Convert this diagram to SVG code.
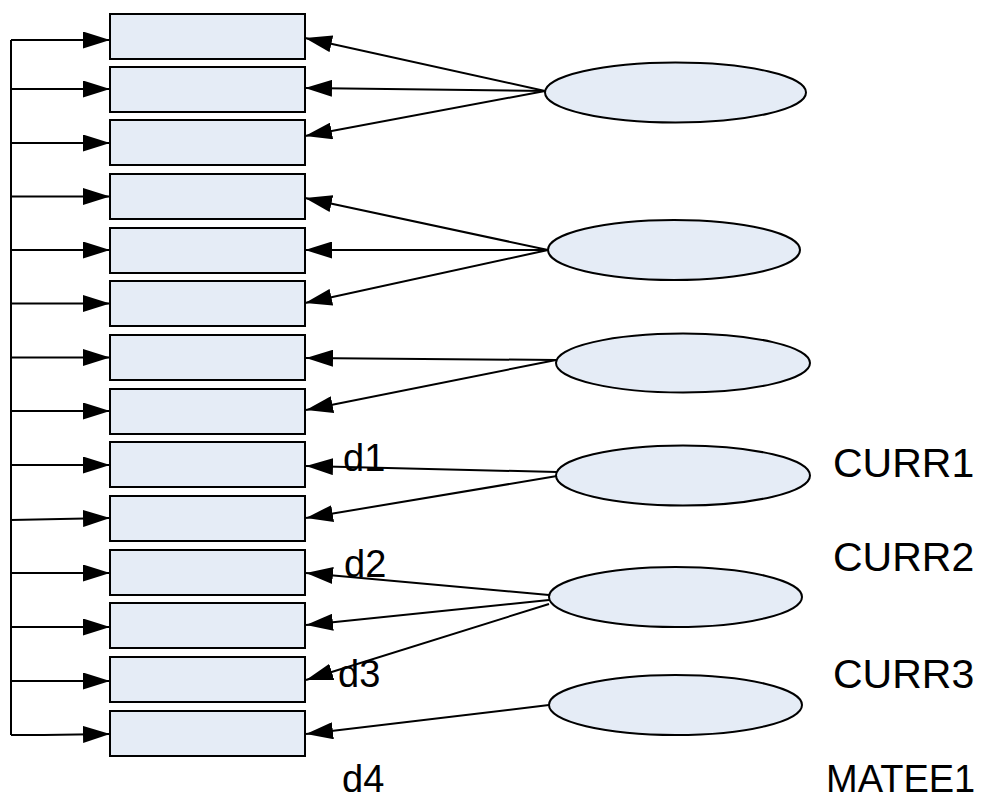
<svg xmlns="http://www.w3.org/2000/svg" width="995" height="801" viewBox="0 0 995 801">
<style>
.box{fill:#E5ECF6;stroke:#000;stroke-width:2}
.ell{fill:#E5ECF6;stroke:#000;stroke-width:2}
.con{fill:none;stroke:#000;stroke-width:2}
.arr{marker-end:url(#ah)}
.lbl{font-family:"Liberation Sans",Arial,sans-serif;font-size:38px;fill:#000}
.big{font-size:41px}
</style>
<defs>
<marker id="ah" viewBox="0 0 27 17" refX="27" refY="8.5" markerWidth="27" markerHeight="17" markerUnits="userSpaceOnUse" orient="auto">
<path d="M0,0 L27,8.5 L0,17 z" fill="#000"/>
</marker>
</defs>
<rect width="995" height="801" fill="#fff"/>
<g id="r1"><rect class="box" x="110" y="14" width="195" height="45"/></g>
<g id="r2"><rect class="box" x="110" y="67" width="195" height="45"/></g>
<g id="r3"><rect class="box" x="110" y="120" width="195" height="45"/></g>
<g id="r4"><rect class="box" x="110" y="174" width="195" height="45"/></g>
<g id="r5"><rect class="box" x="110" y="228" width="195" height="45"/></g>
<g id="r6"><rect class="box" x="110" y="281" width="195" height="45"/></g>
<g id="r7"><rect class="box" x="110" y="335" width="195" height="45"/></g>
<g id="r8"><rect class="box" x="110" y="389" width="195" height="45"/></g>
<g id="r9"><rect class="box" x="110" y="442" width="195" height="45"/></g>
<g id="r10"><rect class="box" x="110" y="496" width="195" height="45"/></g>
<g id="r11"><rect class="box" x="110" y="550" width="195" height="45"/></g>
<g id="r12"><rect class="box" x="110" y="603" width="195" height="45"/></g>
<g id="r13"><rect class="box" x="110" y="657" width="195" height="45"/></g>
<g id="r14"><rect class="box" x="110" y="711" width="195" height="45"/></g>
<g id="e1"><ellipse class="ell" cx="675.5" cy="92.5" rx="130.5" ry="30"/></g>
<g id="e2"><ellipse class="ell" cx="674" cy="250" rx="126" ry="30"/></g>
<g id="e3"><ellipse class="ell" cx="683" cy="363" rx="127" ry="29.5"/></g>
<g id="e4"><ellipse class="ell" cx="683" cy="475.5" rx="127" ry="30"/></g>
<g id="e5"><ellipse class="ell" cx="675.5" cy="597" rx="126.5" ry="30"/></g>
<g id="e6"><ellipse class="ell" cx="675.5" cy="705" rx="126.5" ry="30"/></g>
<g id="connectors">
<path class="con" d="M11,40 V735"/>
<path class="con arr" d="M11,40 H110"/>
<path class="con arr" d="M11,89 H110"/>
<path class="con arr" d="M11,143 H110"/>
<path class="con arr" d="M11,196.5 H110"/>
<path class="con arr" d="M11,250 H110"/>
<path class="con arr" d="M11,303.5 H110"/>
<path class="con arr" d="M11,357.5 H110"/>
<path class="con arr" d="M11,411 H110"/>
<path class="con arr" d="M11,465 H110"/>
<path class="con arr" d="M11,520 L110,518"/>
<path class="con arr" d="M11,573 H110"/>
<path class="con arr" d="M11,627 H110"/>
<path class="con arr" d="M11,681 H110"/>
<path class="con arr" d="M11,735 H44 L110,734"/>
<path class="con arr" d="M545,91 L305,38"/>
<path class="con arr" d="M545,91 L305,88"/>
<path class="con arr" d="M545,91 L305,136"/>
<path class="con arr" d="M548,250 L305,198"/>
<path class="con arr" d="M548,250 L305,250"/>
<path class="con arr" d="M548,250 L305,303"/>
<path class="con arr" d="M556,360 L306,358"/>
<path class="con arr" d="M556,360 L306,410"/>
<path class="con arr" d="M557,472 L306,466"/>
<path class="con arr" d="M557,476 L306,518"/>
<path class="con arr" d="M549,595 L306,573"/>
<path class="con arr" d="M549,600 L306,625"/>
<path class="con arr" d="M549,604 L306,680"/>
<path class="con arr" d="M549,705 L306,734"/>
</g>
<g id="labels">
<text class="lbl" x="343" y="471">d1</text>
<text class="lbl" x="344" y="577">d2</text>
<text class="lbl" x="338" y="687">d3</text>
<text class="lbl" x="342" y="792">d4</text>
<text class="lbl big" x="833" y="477">CURR1</text>
<text class="lbl big" x="833" y="571">CURR2</text>
<text class="lbl big" x="833" y="688">CURR3</text>
<text class="lbl" x="826" y="792">MATEE1</text>
</g>
</svg>
